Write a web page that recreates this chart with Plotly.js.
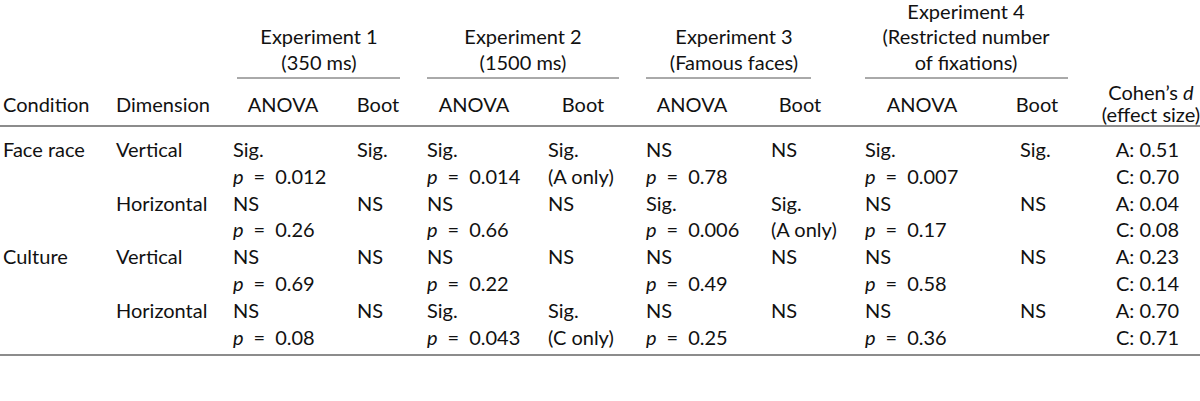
<!DOCTYPE html>
<html>
<head>
<meta charset="utf-8">
<script src="https://cdn.plot.ly/plotly-3.0.1.min.js"></script>
<style>html,body{margin:0;padding:0;background:#fff;}#chart{width:1200px;height:401px;}</style>
</head>
<body>
<div id="chart"></div>
<script>
// ---------- data ----------
const conditions = ["Face race", "", "Culture", ""];
const dimensions = ["Vertical", "Horizontal", "Vertical", "Horizontal"];
const experimentTitles = [
  ["Experiment 1", "(350 ms)"],
  ["Experiment 2", "(1500 ms)"],
  ["Experiment 3", "(Famous faces)"],
  ["Experiment 4", "(Restricted number", "of fixations)"]
];
const subHeaders = ["ANOVA", "Boot"];
const anovaResult = [
  ["Sig.", "NS", "NS", "NS"],
  ["Sig.", "NS", "NS", "Sig."],
  ["NS", "Sig.", "NS", "NS"],
  ["Sig.", "NS", "NS", "NS"]
];
const anovaP = [
  ["0.012", "0.26", "0.69", "0.08"],
  ["0.014", "0.66", "0.22", "0.043"],
  ["0.78", "0.006", "0.49", "0.25"],
  ["0.007", "0.17", "0.58", "0.36"]
];
const bootResult = [
  ["Sig.", "NS", "NS", "NS"],
  ["Sig.", "NS", "NS", "Sig."],
  ["NS", "Sig.", "NS", "NS"],
  ["Sig.", "NS", "NS", "NS"]
];
const bootNote = [
  ["", "", "", ""],
  ["(A only)", "", "", "(C only)"],
  ["", "(A only)", "", ""],
  ["", "", "", ""]
];
const cohenA = ["0.51", "0.04", "0.23", "0.70"];
const cohenC = ["0.70", "0.08", "0.14", "0.71"];
const headerLeft = ["Condition", "Dimension"];
const cohenHeader = ["Cohen’s <i>d</i>", "(effect size)"];

// ---------- layout (pixel grid) ----------
const FONT = {family: "Lato, 'Open Sans', sans-serif", size: 20, color: "#111111"};
const colCond = 3, colDim = 116;
const anovaX = [233, 427, 646, 865];
const bootX = [357, 548, 771, 1020];
const anovaHeadX = [283, 474, 692, 922];
const bootHeadX = [378, 583, 800, 1037];
const expTitleX = [319, 523, 734, 966];
const underline = [[237, 400], [427, 619], [646, 811], [865, 1068]];
const cohenRight = 1179, cohenHeadX = 1151;
const rowY0 = 152, rowStep = 26.8;
const headRowY = 107;
const titleLineY = [65, 39, 14];   // bottom-up line centres
const underlineY = 78, ruleTop = 126, ruleBottom = 355;
const EQ = "\u2002=\u2002";

const traces = [];
function addText(xs, ys, texts, pos) {
  traces.push({type: "scatter", mode: "text", x: xs, y: ys, text: texts,
    textposition: pos, textfont: FONT, hoverinfo: "skip", showlegend: false, cliponaxis: false});
}
const rowY = i => rowY0 + rowStep * i;

// header
addText([colCond, colDim], [headRowY, headRowY], headerLeft, "middle right");
experimentTitles.forEach((lines, e) => {
  const n = lines.length;
  addText(lines.map(() => expTitleX[e]), lines.map((_, k) => titleLineY[n - 1 - k]), lines, "middle center");
  addText([anovaHeadX[e], bootHeadX[e]], [headRowY, headRowY], subHeaders, "middle center");
});
addText([cohenHeadX, cohenHeadX], [headRowY - 12, headRowY + 10], cohenHeader, "middle center");

// body
conditions.forEach((c, r) => {
  addText([colCond, colDim], [rowY(2 * r), rowY(2 * r)], [c, dimensions[r]], "middle right");
});
for (let e = 0; e < 4; e++) {
  const xs = [], ys = [], ts = [], bx = [], by = [], bt = [];
  for (let r = 0; r < 4; r++) {
    xs.push(anovaX[e], anovaX[e]); ys.push(rowY(2 * r), rowY(2 * r + 1));
    ts.push(anovaResult[e][r], "<i>p</i>" + EQ + anovaP[e][r]);
    bx.push(bootX[e], bootX[e]); by.push(rowY(2 * r), rowY(2 * r + 1));
    bt.push(bootResult[e][r], bootNote[e][r]);
  }
  addText(xs, ys, ts, "middle right");
  addText(bx, by, bt, "middle right");
}
{
  const xs = [], ys = [], ts = [];
  for (let r = 0; r < 4; r++) {
    xs.push(cohenRight, cohenRight); ys.push(rowY(2 * r), rowY(2 * r + 1));
    ts.push("A: " + cohenA[r], "C: " + cohenC[r]);
  }
  addText(xs, ys, ts, "middle left");
}

const shapes = [];
underline.forEach(([a, b]) => shapes.push({type: "line", xref: "x", yref: "y", x0: a, x1: b, y0: underlineY, y1: underlineY, line: {color: "#555", width: 1}}));
[ruleTop, ruleBottom].forEach(y => shapes.push({type: "line", xref: "x", yref: "y", x0: 0, x1: 1200, y0: y, y1: y, line: {color: "#666", width: 1.5}}));

const layout = {
  width: 1200, height: 401,
  margin: {l: 0, r: 0, t: 0, b: 0},
  paper_bgcolor: "#fff", plot_bgcolor: "#fff",
  xaxis: {range: [0, 1200], visible: false, fixedrange: true},
  yaxis: {range: [401, 0], visible: false, fixedrange: true},
  shapes: shapes,
  showlegend: false
};
Plotly.newPlot("chart", traces, layout, {staticPlot: true, displayModeBar: false});
</script>
</body>
</html>
